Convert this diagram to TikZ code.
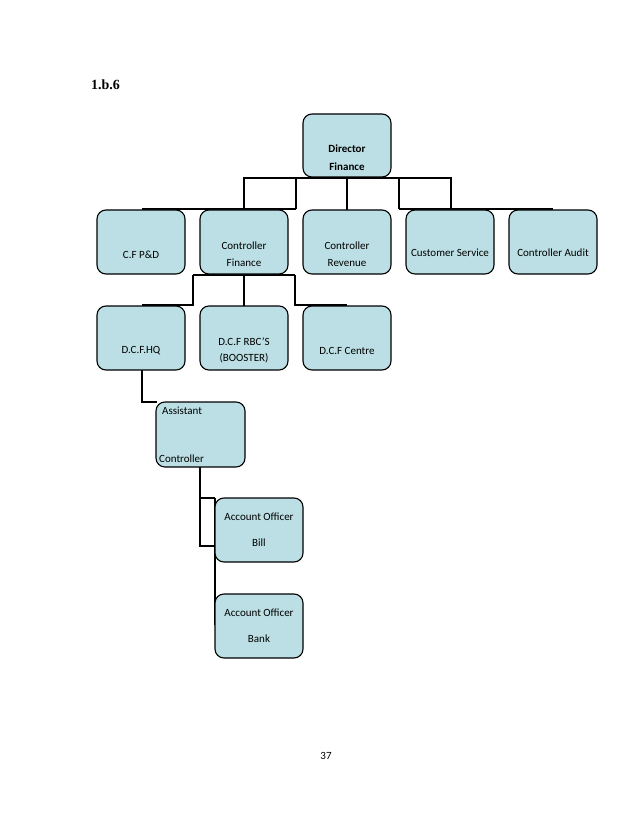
\documentclass[tikz,border=0pt]{standalone}
\usepackage{fontspec}
\setmainfont{Carlito}
\newfontfamily\serifbold{Liberation Serif}
\definecolor{boxfill}{RGB}{187,223,228}
\tikzset{
  orgbox/.style={draw=black, line width=1.1pt, fill=boxfill, rounded corners=9pt,
    minimum width=88pt, minimum height=64pt, inner sep=0pt},
  boxtext/.style={align=center, inner sep=0pt, font=\fontsize{11}{16.5}\selectfont},
  widetext/.style={align=center, inner sep=0pt, font=\fontsize{11}{26}\selectfont},
  conn/.style={draw=black, line width=2.4pt}
}
\begin{document}
\begin{tikzpicture}[x=1pt,y=-1pt]
\useasboundingbox[fill=white] (0,0) rectangle (638,826);

% page texts
\node[font=\serifbold\bfseries\fontsize{14}{17}\selectfont, anchor=west, inner sep=0pt] (title) at (91,85) {1.b.6};
\node[font=\fontsize{11}{13}\selectfont, inner sep=0pt] (pageno) at (326,756) {37};

% junction coordinates
\coordinate (t1) at (244,178); \coordinate (t5) at (451,178);
\coordinate (t2) at (296,178); \coordinate (t3) at (347,178); \coordinate (t4) at (399,178);
\coordinate (b1) at (244,209); \coordinate (b2) at (296,209); \coordinate (b3) at (347,210);
\coordinate (b4) at (399,209); \coordinate (b5) at (451,209);
\coordinate (l1) at (142,209); \coordinate (r1) at (553,209);

\coordinate (m1) at (193,275); \coordinate (m3) at (295,275); \coordinate (m2) at (244,275);
\coordinate (n1) at (193,305); \coordinate (n2) at (244,306); \coordinate (n3) at (295,305);
\coordinate (n0) at (142,305); \coordinate (n4) at (347,305);

\coordinate (h1) at (142,370); \coordinate (h2) at (142,402); \coordinate (h3) at (157,402);

\coordinate (a1) at (200,467); \coordinate (a2) at (200,498); \coordinate (a3) at (200,546);
\coordinate (a4) at (215,498); \coordinate (a5) at (215,546); \coordinate (a6) at (215,625);

% connectors
\draw[conn] (b1) -- (t1) -- (t5) -- (b5);
\draw[conn] (t2) -- (b2);
\draw[conn] (t3) -- (b3);
\draw[conn] (t4) -- (b4);
\draw[conn] (l1) -- (b2);
\draw[conn] (b4) -- (r1);

\draw[conn] (m1) -- (m3);
\draw[conn] (n0) -- (n1) -- (m1);
\draw[conn] (m2) -- (n2);
\draw[conn] (m3) -- (n3) -- (n4);

\draw[conn] (h1) -- (h2) -- (h3);

\draw[conn] (a1) -- (a3) -- (a5);
\draw[conn] (a2) -- (a4);
\draw[line width=1.8pt] (a4) -- (a6);

% boxes
\node[orgbox, minimum height=63pt] (df) at (347,145.5) {};
\node[boxtext, font=\bfseries\fontsize{11}{18}\selectfont] (dft) at ([yshift=-12.5pt]df.center) {Director\\Finance};

\node[orgbox] (cfpd) at (141,242) {};
\node[boxtext] (cfpdt) at ([yshift=-13pt]cfpd.center) {C.F P\&D};
\node[orgbox] (cfin) at (244,242) {};
\node[boxtext] (cfint) at ([yshift=-12pt]cfin.center) {Controller\\Finance};
\node[orgbox] (crev) at (347,242) {};
\node[boxtext] (crevt) at ([yshift=-12pt]crev.center) {Controller\\Revenue};
\node[orgbox] (cs) at (450,242) {};
\node[boxtext] (cst) at ([yshift=-11pt]cs.center) {Customer Service};
\node[orgbox] (ca) at (553,242) {};
\node[boxtext] (cat) at ([yshift=-11pt]ca.center) {Controller Audit};

\node[orgbox] (hq) at (141,338) {};
\node[boxtext] (hqt) at ([yshift=-13pt]hq.center) {D.C.F.HQ};
\node[orgbox] (rbc) at (244,338) {};
\node[boxtext] (rbct) at ([yshift=-12.5pt]rbc.center) {D.C.F RBC’S\\(BOOSTER)};
\node[orgbox] (cen) at (347,338) {};
\node[boxtext] (cent) at ([yshift=-13pt]cen.center) {D.C.F Centre};

\node[orgbox, minimum width=89pt, minimum height=65pt] (ac) at (200.5,434.5) {};
\node[boxtext, anchor=west] (act1) at (162,411) {Assistant};
\node[boxtext, anchor=west] (act2) at (159,459) {Controller};

\node[orgbox] (bill) at (259,530) {};
\node[widetext] (billt) at (bill.center) {Account Officer\\Bill};
\node[orgbox] (bank) at (259,626) {};
\node[widetext] (bankt) at (bank.center) {Account Officer\\Bank};
\end{tikzpicture}
\end{document}
